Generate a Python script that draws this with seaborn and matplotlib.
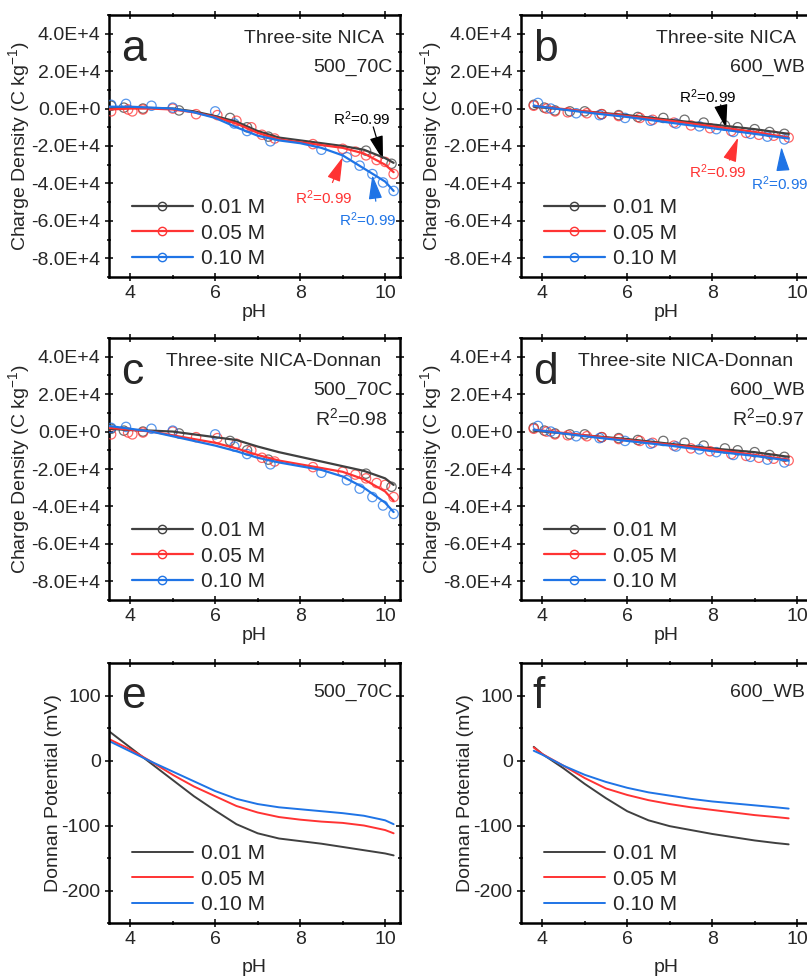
import numpy as np
import pandas as pd
import matplotlib
matplotlib.use("Agg")
import matplotlib.pyplot as plt
import seaborn as sns
from matplotlib.lines import Line2D
from matplotlib.ticker import MultipleLocator, FuncFormatter

sns.set_style("ticks")
plt.rcParams['font.family'] = ['Liberation Sans', 'DejaVu Sans']
plt.rcParams['mathtext.fontset'] = 'custom'
plt.rcParams['mathtext.rm'] = 'Liberation Sans'
plt.rcParams['mathtext.it'] = 'Liberation Sans:italic'
plt.rcParams['axes.unicode_minus'] = False

labels = ['0.01 M', '0.05 M', '0.10 M']
colors = ['#404040', '#ff3333', '#1f74e6']

# ---- measured charge (x 1E4 C/kg) ----
# 500_70C
ph_70c = [
    [3.55, 3.85, 4.3, 5.15, 6.35, 6.75, 7.25, 9.55, 10.15],
    [3.55, 3.95, 4.05, 4.3, 5.0, 5.55, 6.05, 6.5, 6.85, 7.1, 7.4, 8.3, 9.0, 9.3, 9.55, 9.8, 10.0, 10.2],
    [3.55, 3.9, 4.5, 5.0, 6.0, 6.45, 6.75, 7.3, 8.5, 9.1, 9.4, 9.7, 9.95, 10.2],
]
q_70c = [
    [0.15, 0.05, 0.0, -0.1, -0.5, -1.0, -1.5, -2.25, -2.95],
    [-0.15, -0.05, -0.15, -0.05, 0.0, -0.3, -0.35, -0.65, -1.0, -1.4, -1.6, -1.9, -2.15, -2.3, -2.5, -2.75, -2.85, -3.5],
    [0.2, 0.25, 0.15, 0.05, -0.15, -0.8, -1.2, -1.75, -2.2, -2.6, -3.05, -3.5, -3.95, -4.4],
]
# 600_WB
ph_wb = [
    [3.8, 4.05, 4.3, 4.65, 5.0, 5.4, 5.8, 6.25, 6.85, 7.35, 7.8, 8.3, 8.6, 9.0, 9.35, 9.7],
    [3.8, 4.1, 4.3, 4.6, 5.05, 5.4, 5.8, 6.3, 6.6, 7.1, 7.5, 7.95, 8.45, 8.8, 9.1, 9.45, 9.8],
    [3.9, 4.2, 4.8, 5.35, 5.95, 6.55, 7.15, 7.7, 8.1, 8.5, 8.9, 9.3, 9.7],
]
q_wb = [
    [0.2, 0.05, -0.1, -0.15, -0.15, -0.3, -0.35, -0.45, -0.5, -0.6, -0.75, -0.9, -1.0, -1.1, -1.25, -1.35],
    [0.15, 0.0, -0.15, -0.2, -0.25, -0.3, -0.4, -0.5, -0.6, -0.75, -0.9, -1.05, -1.2, -1.3, -1.4, -1.45, -1.55],
    [0.3, 0.0, -0.25, -0.35, -0.5, -0.65, -0.8, -0.95, -1.1, -1.25, -1.35, -1.5, -1.65],
]

# ---- fitted curves ----
fit_ph_70c = [3.5, 4, 4.5, 5, 5.5, 6, 6.5, 7, 7.5, 8, 8.5, 9, 9.5, 10, 10.2]
nica_70c = [
    [0.05, 0.05, 0.03, 0.0, -0.15, -0.4, -0.7, -1.2, -1.55, -1.7, -1.85, -2.0, -2.2, -2.65, -2.9],
    [-0.05, 0.0, 0.0, -0.05, -0.2, -0.45, -0.8, -1.3, -1.65, -1.8, -1.95, -2.1, -2.4, -3.0, -3.4],
    [0.1, 0.1, 0.05, 0.0, -0.2, -0.5, -1.0, -1.45, -1.7, -1.85, -2.1, -2.5, -3.2, -3.9, -4.4],
]
nd_70c = [
    [0.15, 0.08, 0.05, 0.0, -0.15, -0.3, -0.45, -0.8, -1.1, -1.35, -1.6, -1.85, -2.1, -2.5, -2.85],
    [0.2, 0.1, 0.0, -0.2, -0.4, -0.6, -0.9, -1.25, -1.55, -1.75, -1.95, -2.15, -2.55, -3.2, -3.7],
    [0.3, 0.15, 0.0, -0.25, -0.5, -0.75, -1.05, -1.4, -1.65, -1.85, -2.05, -2.4, -3.0, -3.8, -4.3],
]
fit_ph_wb = [3.8, 5, 6, 7, 8, 9, 9.8]
nica_wb = [
    [0.1, -0.15, -0.35, -0.6, -0.85, -1.1, -1.35],
    [0.15, -0.15, -0.4, -0.65, -0.95, -1.25, -1.55],
    [0.15, -0.2, -0.45, -0.75, -1.05, -1.35, -1.6],
]
nd_wb = [
    [0.05, -0.2, -0.4, -0.65, -0.9, -1.1, -1.35],
    [0.1, -0.2, -0.45, -0.7, -0.95, -1.25, -1.5],
    [0.1, -0.25, -0.5, -0.75, -1.05, -1.3, -1.55],
]

# ---- Donnan potential (mV) ----
don_ph_70c = [3.5, 4, 4.5, 5, 5.5, 6, 6.5, 7, 7.5, 8, 8.5, 9, 9.5, 10, 10.2]
don_70c = [
    [45, 20, -5, -30, -55, -77, -98, -112, -120, -124, -128, -133, -138, -143, -146],
    [33, 17, -2, -22, -40, -55, -70, -80, -87, -91, -94, -96, -100, -107, -112],
    [30, 14, -2, -17, -32, -47, -59, -67, -72, -75, -78, -81, -85, -92, -98],
]
don_ph_wb = [3.8, 4, 4.5, 5, 5.5, 6, 6.5, 7, 7.5, 8, 8.5, 9, 9.5, 9.8]
don_wb = [
    [21, 10, -12, -36, -58, -78, -92, -101, -107, -113, -118, -123, -127, -129],
    [20, 10, -8, -27, -43, -53, -61, -67, -72, -76, -80, -84, -87, -89],
    [15, 9, -8, -22, -33, -42, -49, -54, -59, -63, -66, -69, -72, -74],
]

W, H = 807, 976
fig = plt.figure(figsize=(W / 100, H / 100), dpi=100)


def make_ax(left, top, width, height):
    return fig.add_axes([left / W, 1 - (top + height) / H, width / W, height / H])


def style_ax(ax):
    for s in ax.spines.values():
        s.set_linewidth(1.8)
        s.set_color('black')
    ax.xaxis.set_major_locator(MultipleLocator(2))
    ax.xaxis.set_minor_locator(MultipleLocator(1))
    ax.tick_params(which='both', direction='inout', top=True, right=True,
                   width=1.3, labelsize=14, pad=3)
    ax.tick_params(which='major', length=6)
    ax.tick_params(which='minor', length=3.5)
    ax.set_xlim(3.5, 10.35)


def charge_fmt(v, pos):
    if abs(v) < 1:
        return '0.0E+0'
    return f'{v / 1e4:.1f}E+4'


def charge_panel(ax, ph_meas, q_meas, fit_ph, fit_q):
    for i in range(3):
        df = pd.DataFrame({'pH': ph_meas[i], 'q': np.array(q_meas[i]) * 1e4})
        sns.scatterplot(data=df, x='pH', y='q', ax=ax, marker='o', s=45,
                        facecolors='none', edgecolor=colors[i], linewidth=0.9,
                        alpha=0.75, legend=False, zorder=3)
    for i in range(3):
        df = pd.DataFrame({'pH': fit_ph, 'q': np.array(fit_q[i]) * 1e4})
        sns.lineplot(data=df, x='pH', y='q', ax=ax, color=colors[i], lw=1.6,
                     sort=False, estimator=None, legend=False, zorder=4)
    style_ax(ax)
    ax.set_ylim(-9e4, 5e4)
    ax.yaxis.set_major_locator(MultipleLocator(2e4))
    ax.yaxis.set_minor_locator(MultipleLocator(1e4))
    ax.yaxis.set_major_formatter(FuncFormatter(charge_fmt))
    ax.set_xlabel('pH', fontsize=14, labelpad=1)
    ax.set_ylabel('Charge Density (C kg$^{-1}$)', fontsize=14)
    ax.yaxis.set_label_coords(-0.265, 0.5)
    handles = [Line2D([], [], color=colors[i], lw=1.6, marker='o', ms=6,
                      mfc='none', mec=colors[i]) for i in range(3)]
    ax.legend(handles, labels, loc='lower left', bbox_to_anchor=(0.08, 0.035),
              frameon=False, fontsize=15, handlelength=2.9, handletextpad=0.4,
              labelspacing=0.3, borderpad=0, borderaxespad=0)


def donnan_panel(ax, ph, pot):
    for i in range(3):
        df = pd.DataFrame({'pH': ph, 'psi': pot[i]})
        sns.lineplot(data=df, x='pH', y='psi', ax=ax, color=colors[i], lw=1.4,
                     sort=False, estimator=None, legend=False)
    style_ax(ax)
    ax.set_ylim(-250, 150)
    ax.yaxis.set_major_locator(MultipleLocator(100))
    ax.yaxis.set_minor_locator(MultipleLocator(50))
    ax.set_xlabel('pH', fontsize=14, labelpad=8)
    ax.set_ylabel('Donnan Potential (mV)', fontsize=14)
    ax.yaxis.set_label_coords(-0.16, 0.5)
    handles = [Line2D([], [], color=colors[i], lw=1.4) for i in range(3)]
    ax.legend(handles, labels, loc='lower left', bbox_to_anchor=(0.08, 0.035),
              frameon=False, fontsize=15, handlelength=2.9, handletextpad=0.4,
              labelspacing=0.3, borderpad=0, borderaxespad=0)


def letter(ax, s):
    ax.text(0.04, 0.87, s, transform=ax.transAxes, fontsize=32, va='center', ha='left')


def corner_text(ax, lines):
    for s, x, y in lines:
        ax.text(x, y, s, transform=ax.transAxes, fontsize=14, ha='right', va='center')


def arrow(ax, text, tpos, tail, tip, color):
    ax.text(tpos[0], tpos[1] * 1e4, text, color=color, fontsize=11, ha='center', va='center')
    ax.annotate('', xy=(tip[0], tip[1] * 1e4), xytext=(tail[0], tail[1] * 1e4),
                arrowprops=dict(arrowstyle='-|>,head_length=1.5,head_width=0.42',
                                color=color, lw=0.9, shrinkA=0, shrinkB=0))


ax_a = make_ax(109, 15, 291, 262)
ax_b = make_ax(521, 15, 291, 262)
ax_c = make_ax(109, 338, 291, 262)
ax_d = make_ax(521, 338, 291, 262)
ax_e = make_ax(109, 663, 291, 260)
ax_f = make_ax(521, 663, 291, 260)

charge_panel(ax_a, ph_70c, q_70c, fit_ph_70c, nica_70c)
charge_panel(ax_b, ph_wb, q_wb, fit_ph_wb, nica_wb)
charge_panel(ax_c, ph_70c, q_70c, fit_ph_70c, nd_70c)
charge_panel(ax_d, ph_wb, q_wb, fit_ph_wb, nd_wb)
donnan_panel(ax_e, don_ph_70c, don_70c)
donnan_panel(ax_f, don_ph_wb, don_wb)

for ax, s in zip([ax_a, ax_b, ax_c, ax_d, ax_e, ax_f], 'abcdef'):
    letter(ax, s)

corner_text(ax_a, [('Three-site NICA', 0.945, 0.91), ('500_70C', 0.975, 0.80)])
corner_text(ax_b, [('Three-site NICA', 0.945, 0.91), ('600_WB', 0.975, 0.80)])
corner_text(ax_c, [('Three-site NICA-Donnan', 0.935, 0.91), ('500_70C', 0.975, 0.80),
                   ('R$^2$=0.98', 0.96, 0.695)])
corner_text(ax_d, [('Three-site NICA-Donnan', 0.935, 0.91), ('600_WB', 0.975, 0.80),
                   ('R$^2$=0.97', 0.975, 0.695)])
corner_text(ax_e, [('500_70C', 0.975, 0.885)])
corner_text(ax_f, [('600_WB', 0.975, 0.885)])

r2 = 'R$^2$=0.99'
arrow(ax_a, r2, (9.45, -0.55), (9.72, -0.98), (9.95, -2.75), 'black')
arrow(ax_a, r2, (8.55, -4.75), (8.76, -3.95), (9.0, -2.6), colors[1])
arrow(ax_a, r2, (9.6, -5.95), (9.78, -4.95), (9.7, -3.55), colors[2])
arrow(ax_b, r2, (7.9, 0.63), (8.2, 0.2), (8.33, -1.07), 'black')
arrow(ax_b, r2, (8.13, -3.4), (8.41, -2.75), (8.61, -1.55), colors[1])
arrow(ax_b, r2, (9.6, -4.0), (9.66, -3.1), (9.63, -2.05), colors[2])

fig.savefig('out.png', dpi=100)
